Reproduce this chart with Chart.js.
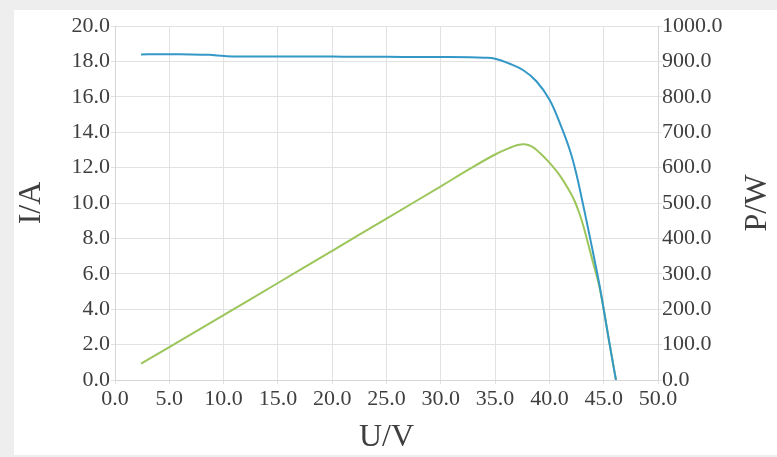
<!DOCTYPE html>
<html>
<head>
<meta charset="utf-8">
<script src="https://cdn.jsdelivr.net/npm/chart.js@4"></script>
<style>
  body { margin: 0; background: #eeeeee; width: 777px; height: 457px; overflow: hidden; }
  #panel { position: absolute; left: 14px; top: 10px; width: 763px; height: 445px; background: #ffffff; }
</style>
</head>
<body>
<div id="panel"><canvas id="myChart" width="763" height="445"></canvas></div>
<script>
// I-V curve (left axis, A)
const uCurrent = [2.4, 4.0, 6.0, 8.0, 8.7, 9.5, 10.3, 12.0, 15.0, 20.0, 22.0, 25.0, 28.0, 30.0, 32.7, 34.0, 35.0, 36.3, 37.6, 38.8, 40.0, 41.0, 41.9, 42.5, 43.0, 43.55, 44.1, 44.66, 45.3, 45.85, 46.13]
const current  = [18.39, 18.41, 18.40, 18.38, 18.37, 18.33, 18.29, 18.28, 18.28, 18.27, 18.26, 18.26, 18.25, 18.25, 18.24, 18.21, 18.15, 17.88, 17.50, 16.88, 15.85, 14.45, 12.95, 11.60, 10.20, 8.60, 6.95, 5.20, 2.90, 0.95, 0.00]

// P-V curve (right axis, W)
const uPower = [2.4, 5.0, 10.0, 15.0, 20.0, 25.0, 30.0, 32.7, 35.0, 36.3, 37.0, 37.7, 38.4, 39.1, 40.0, 41.0, 41.9, 42.3, 42.7, 43.12, 43.9, 44.66, 45.58, 46.13]
const power  = [46, 93, 183, 274, 365, 456, 547, 597, 637, 655, 663, 666, 659, 642, 614, 576, 531, 507, 476, 436, 345, 255, 95, 0]

const xTitle = "U/V"
const yTitle = "I/A"
const y2Title = "P/W"

const labelFont = { family: "'Liberation Serif', 'DejaVu Serif', serif", size: 22 }
const titleFont = { family: "'Liberation Serif', 'DejaVu Serif', serif", size: 32 }
const textColor = "#3f3f3f"
const gridColor = "#e2e2e2"

// right axis title reads bottom to top, like the left one
const rightTitle = {
  id: "rightTitle",
  afterDraw(chart) {
    const ctx = chart.ctx
    const area = chart.chartArea
    ctx.save()
    ctx.translate(744, (area.top + area.bottom) / 2)
    ctx.rotate(-Math.PI / 2)
    ctx.font = titleFont.size + "px " + titleFont.family
    ctx.fillStyle = textColor
    ctx.textAlign = "center"
    ctx.textBaseline = "middle"
    ctx.fillText(y2Title, 0, 0)
    ctx.restore()
  }
}

const updatee = new Chart("myChart", {
  type: "scatter",
  data: {
    datasets: [{
        label: "I",
        data: uCurrent.map((u, i) => ({ x: u, y: current[i] })),
        showLine: true,
        borderColor: "#3498c7",
        backgroundColor: "#3498c7",
        borderWidth: 2,
        pointRadius: 0,
        tension: 0.4,
        yAxisID: "y"
      },{
        label: "P",
        data: uPower.map((u, i) => ({ x: u, y: power[i] })),
        showLine: true,
        borderColor: "#9cc65b",
        backgroundColor: "#9cc65b",
        borderWidth: 2,
        pointRadius: 0,
        tension: 0.4,
        yAxisID: "y2"
      }
    ]
  },
  options: {
    responsive: false,
    animation: false,
    layout: { padding: { top: 16, left: 0, right: 0, bottom: 0 } },
    plugins: { legend: { display: false }, tooltip: { enabled: false } },
    scales: {
      x: {
        type: "linear",
        min: 0, max: 50,
        afterFit(scale) { scale.height = 75 },
        ticks: { stepSize: 5, autoSkip: false, maxRotation: 0, color: textColor, font: labelFont, padding: 2,
                 callback: v => v.toFixed(1) },
        grid: { color: gridColor, tickLength: 4 },
        border: { color: "#d6d6d6" },
        title: { display: true, text: xTitle, color: textColor, font: { ...titleFont, lineHeight: 34 / 32 }, padding: 0 }
      },
      y: {
        position: "left",
        min: 0, max: 20,
        afterFit(scale) { scale.width = 101 },
        ticks: { stepSize: 2, color: textColor, font: labelFont, padding: 1,
                 callback: v => v.toFixed(1) },
        grid: { color: gridColor, tickLength: 4 },
        border: { color: "#d6d6d6" },
        title: { display: true, text: yTitle, color: textColor, font: { ...titleFont, lineHeight: 36 / 32 }, padding: 0 }
      },
      y2: {
        position: "right",
        min: 0, max: 1000,
        afterFit(scale) { scale.width = 119 },
        ticks: { stepSize: 100, color: textColor, font: labelFont, padding: 0,
                 callback: v => v.toFixed(1) },
        grid: { drawOnChartArea: false, color: gridColor, tickLength: 4 },
        border: { color: "#d6d6d6" }
      }
    }
  },
  plugins: [rightTitle]
})
</script>
</body>
</html>
